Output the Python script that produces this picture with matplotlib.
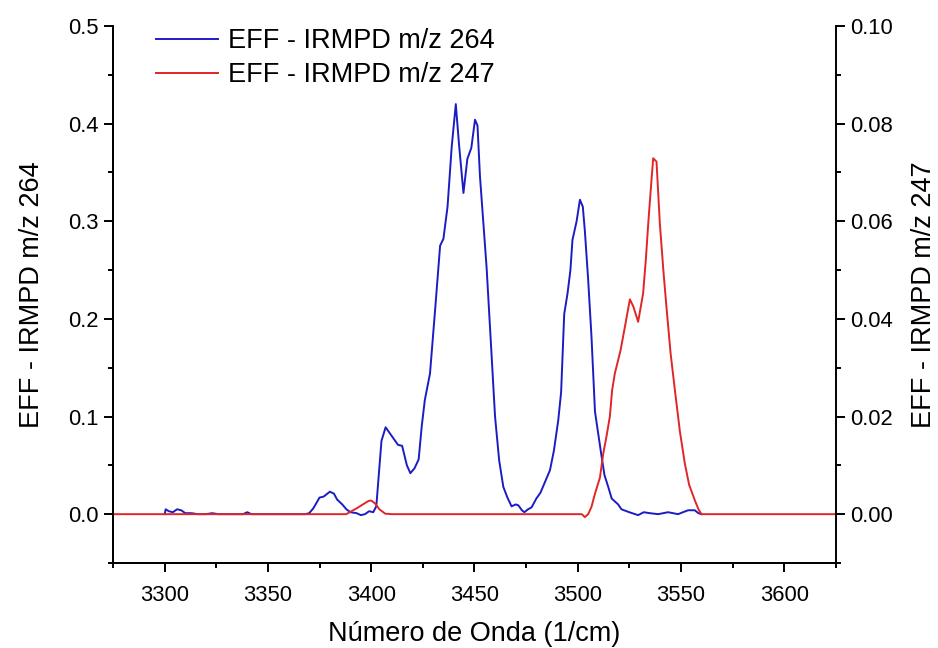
import numpy as np
import matplotlib
matplotlib.use('Agg')
import matplotlib.pyplot as plt
from matplotlib.ticker import MultipleLocator, FormatStrFormatter

# blue trace, EFF - IRMPD m/z 264 (left axis)
wn_264 = [3300, 3300.5, 3302, 3304, 3306, 3308, 3310, 3313, 3316, 3320, 3323, 3326,
          3338, 3340, 3342, 3368, 3370, 3372, 3375, 3377, 3380, 3382, 3383.5, 3386,
          3388, 3390, 3393, 3395, 3397, 3399, 3401, 3402.5, 3403.5, 3405, 3407, 3410,
          3413, 3415, 3417.3, 3419, 3421, 3423, 3424.5, 3426, 3428.5, 3431, 3433.4,
          3435, 3437, 3439, 3441, 3442.5, 3444.7, 3446.6, 3448.5, 3450.3, 3451.5,
          3452.7, 3455.9, 3458, 3460, 3462, 3464, 3466, 3468, 3470, 3471.3, 3473,
          3474.2, 3476, 3477.7, 3480, 3482, 3484, 3486.6, 3488.5, 3490.6, 3492,
          3493.5, 3495.1, 3496.5, 3497.5, 3499.5, 3501.1, 3502.5, 3503.5, 3505.1,
          3506.7, 3508.4, 3510, 3511.6, 3513, 3514.8, 3516.5, 3519.6, 3521.2, 3525,
          3529.3, 3532, 3535, 3539, 3543.8, 3548.6, 3553.5, 3556.7, 3558.5, 3560]
eff_264 = [0.000, 0.005, 0.003, 0.002, 0.005, 0.004, 0.001, 0.001, 0.0, 0.0, 0.001, 0.0,
           0.0, 0.002, 0.0, 0.0, 0.001, 0.006, 0.017, 0.018, 0.023, 0.021, 0.015, 0.010,
           0.005, 0.002, 0.001, -0.001, 0.0, 0.003, 0.002, 0.008, 0.035, 0.075, 0.089, 0.080,
           0.071, 0.070, 0.050, 0.042, 0.047, 0.056, 0.090, 0.117, 0.144, 0.210, 0.275,
           0.282, 0.315, 0.376, 0.420, 0.380, 0.329, 0.364, 0.375, 0.404, 0.398,
           0.346, 0.253, 0.175, 0.100, 0.055, 0.028, 0.017, 0.008, 0.010, 0.009, 0.004,
           0.002, 0.005, 0.007, 0.016, 0.022, 0.032, 0.045, 0.065, 0.096, 0.125,
           0.205, 0.226, 0.250, 0.281, 0.300, 0.322, 0.315, 0.290, 0.240,
           0.182, 0.105, 0.082, 0.059, 0.040, 0.028, 0.016, 0.010, 0.005, 0.002,
           -0.001, 0.002, 0.001, 0.0, 0.002, 0.0, 0.004, 0.004, 0.001, 0.0]

# red trace, EFF - IRMPD m/z 247 (right axis)
wn_247 = [3275, 3388, 3390, 3393, 3396, 3398.7, 3400, 3401.9, 3404, 3406.8, 3410,
          3502, 3503.5, 3505.1, 3506.7, 3508.4, 3510.8, 3512.4, 3514, 3515.6, 3516.7,
          3518, 3520.8, 3522.9, 3525.3, 3527, 3529.3, 3531.7, 3533, 3534.2, 3535.5,
          3536.6, 3538.2, 3539.8, 3541.5, 3543, 3545, 3547.1, 3549.5, 3551.9, 3554,
          3556.7, 3558.5, 3560, 3625]
eff_247 = [0.0, 0.0, 0.0005, 0.0012, 0.0020, 0.0027, 0.0028, 0.0022, 0.0010, 0.0001, 0.0,
           0.0, -0.0006, 0.0, 0.0015, 0.0042, 0.0075, 0.0124, 0.016, 0.020, 0.0254,
           0.0288, 0.0336, 0.0384, 0.044, 0.0425, 0.0394, 0.0452, 0.052, 0.0596, 0.067,
           0.0729, 0.0722, 0.0596, 0.050, 0.0425, 0.033, 0.0254, 0.017, 0.0104, 0.006,
           0.0029, 0.001, 0.0, 0.0]

label_264 = 'EFF - IRMPD m/z 264'
label_247 = 'EFF - IRMPD m/z 247'

plt.rcParams.update({
    'font.family': ['Liberation Sans', 'DejaVu Sans'],
    'font.size': 15.8,
    'axes.linewidth': 1.4,
})

fig = plt.figure(figsize=(9.38, 6.48), dpi=100)
ax = fig.add_axes([0.1205, 0.1312, 0.7705, 0.8287])
ax2 = ax.twinx()

l1, = ax.plot(wn_264, eff_264, color='#1c1cc4', lw=1.4, label=label_264)
l2, = ax2.plot(wn_247, eff_247, color='#e02626', lw=1.4, label=label_247)

ax.set_xlim(3275, 3625)
ax.set_ylim(-0.05, 0.5)
ax2.set_ylim(-0.01, 0.10)

ax.xaxis.set_major_locator(MultipleLocator(50))
ax.xaxis.set_minor_locator(MultipleLocator(25))
ax.yaxis.set_major_locator(MultipleLocator(0.1))
ax.yaxis.set_minor_locator(MultipleLocator(0.05))
ax.yaxis.set_major_formatter(FormatStrFormatter('%.1f'))
ax2.yaxis.set_major_locator(MultipleLocator(0.02))
ax2.yaxis.set_minor_locator(MultipleLocator(0.01))
ax2.yaxis.set_major_formatter(FormatStrFormatter('%.2f'))

for a in (ax, ax2):
    a.spines['top'].set_visible(False)
    a.tick_params(which='major', direction='out', length=6.5, width=1.4, pad=4)
    a.tick_params(which='minor', direction='out', length=3.6, width=1.4)
ax.spines['right'].set_visible(False)
ax.tick_params(axis='both', which='both', top=False, right=False)
ax.tick_params(axis='x', which='major', pad=9)
ax2.tick_params(axis='y', which='both', left=False, right=True)

ax.set_xlabel('Número de Onda (1/cm)', fontsize=19.5)
ax.set_ylabel(label_264, fontsize=19.5)
ax2.set_ylabel(label_247, fontsize=19.5)
ax.xaxis.set_label_coords(0.5, -0.108)
ax.yaxis.set_label_coords(-0.094, 0.5)
ax2.yaxis.set_label_coords(1.104, 0.5)

ax2.legend(handles=[l1, l2], loc='upper left', bbox_to_anchor=(0.059, 0.996),
           frameon=False, fontsize=19.5, handlelength=2.3, handletextpad=0.37,
           labelspacing=0.3, borderpad=0, borderaxespad=0)

fig.savefig('out.png', dpi=100)
